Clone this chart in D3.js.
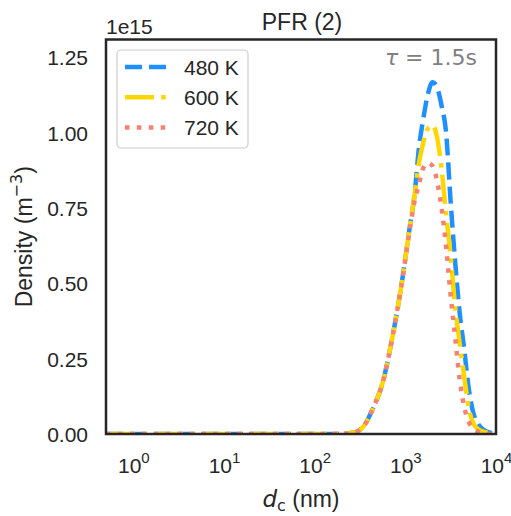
<!DOCTYPE html>
<html>
<head>
<meta charset="utf-8">
<style>
  body { margin: 0; background: #fff; }
  svg { display: block; font-family: "Liberation Sans", Arial, sans-serif; }
  .tick text { fill: #262626; }
</style>
</head>
<body>
<script src="https://cdn.jsdelivr.net/npm/d3@7/dist/d3.min.js"></script>
<svg id="chart" width="511" height="516"></svg>
<script>
// particle diameters (nm), shared by all series
var diameters = [0.5, 1, 10, 100, 158, 224, 282, 355, 447, 562, 708, 891, 1122, 1259, 1413, 1585,
  1778, 1995, 2239, 2512, 2818, 3162, 3548, 3981, 4467, 5012, 5623, 6310, 7079, 7943, 10000];

// density, units of 1e15 m^-3
var dens480 = [0, 0, 0, 0, 0, 0.002, 0.006, 0.03, 0.09, 0.17, 0.31, 0.48, 0.69, 0.79, 0.95, 1.05,
  1.13, 1.168, 1.15, 1.09, 1.0, 0.77, 0.57, 0.40, 0.28, 0.15, 0.07, 0.035, 0.017, 0.008, 0.001];
var dens600 = [0, 0, 0, 0, 0, 0.002, 0.006, 0.03, 0.09, 0.17, 0.31, 0.48, 0.69, 0.79, 0.90, 0.97,
  1.015, 1.025, 0.985, 0.88, 0.73, 0.59, 0.42, 0.30, 0.19, 0.085, 0.035, 0.017, 0.009, 0.005, 0];
var dens720 = [0, 0, 0, 0, 0, 0.002, 0.006, 0.03, 0.09, 0.17, 0.31, 0.48, 0.68, 0.77, 0.83, 0.885,
  0.90, 0.89, 0.84, 0.75, 0.62, 0.46, 0.32, 0.18, 0.09, 0.04, 0.018, 0.008, 0.003, 0.001, 0];

var seriesNames = ["480 K", "600 K", "720 K"];
var xTicks = [1, 10, 100, 1000, 10000];
var yTicks = [0, 0.25, 0.5, 0.75, 1.0, 1.25];

var series = [
  {name: seriesNames[0], values: dens480, color: "#1E90FF", dash: "17,7"},
  {name: seriesNames[1], values: dens600, color: "#FFD700", dash: "29,7.2,4.5,7.2"},
  {name: seriesNames[2], values: dens720, color: "#FA8072", dash: "4.5,7.4"}
];

var pLeft = 106, pRight = 496, pTop = 39.5, pBottom = 434;
var svg = d3.select("#chart");

var x = d3.scaleLog().domain([0.5, 10000]).range([pLeft, pRight]);
var y = d3.scaleLinear().domain([0, 1.31]).range([pBottom, pTop]);

svg.append("clipPath").attr("id", "clip")
  .append("rect").attr("x", pLeft).attr("y", pTop).attr("width", pRight - pLeft).attr("height", pBottom - pTop);

// curves
var line = d3.line()
  .x(function(d, i) { return x(diameters[i]); })
  .y(function(d) { return y(d); })
  .curve(d3.curveMonotoneX);

var lines = svg.append("g").attr("clip-path", "url(#clip)");
series.forEach(function(s) {
  lines.append("path")
    .attr("d", line(s.values))
    .attr("fill", "none")
    .attr("stroke", s.color)
    .attr("stroke-width", 4.5)
    .attr("stroke-dasharray", s.dash);
});

// y axis
var yAxis = svg.append("g")
  .attr("transform", "translate(" + pLeft + ",0)")
  .call(d3.axisLeft(y).tickValues(yTicks).tickSize(0).tickPadding(18)
    .tickFormat(d3.format(".2f")));
yAxis.select(".domain").remove();
yAxis.selectAll("text").style("font-size", "21px").attr("dy", "0.35em");

// x axis, labels as 10^n
var xAxis = svg.append("g")
  .attr("transform", "translate(0," + pBottom + ")")
  .call(d3.axisBottom(x).tickValues(xTicks).tickSize(0).tickPadding(0).tickFormat(""));
xAxis.select(".domain").remove();
xAxis.selectAll(".tick").each(function(d) {
  var t = d3.select(this).append("text")
    .attr("y", 39)
    .attr("text-anchor", "middle")
    .style("font-size", "21px")
    .attr("fill", "#262626");
  t.append("tspan").text("10");
  t.append("tspan").attr("dy", -10).style("font-size", "15px").text(Math.round(Math.log10(d)));
});

// frame
svg.append("rect")
  .attr("x", pLeft).attr("y", pTop)
  .attr("width", pRight - pLeft).attr("height", pBottom - pTop)
  .attr("fill", "none").attr("stroke", "#262626").attr("stroke-width", 2.5);

// offset text, title, labels
svg.append("text").attr("x", 106).attr("y", 34)
  .style("font-size", "21px").attr("fill", "#262626").text("1e15");

svg.append("text").attr("x", 302).attr("y", 30).attr("text-anchor", "middle")
  .style("font-size", "23px").attr("fill", "#262626").text("PFR (2)");

var xl = svg.append("text").attr("x", 301).attr("y", 507).attr("text-anchor", "middle")
  .style("font-size", "23px").attr("fill", "#262626");
xl.append("tspan").style("font-family", "DejaVu Sans").style("font-style", "italic").text("d");
xl.append("tspan").attr("dy", 4).style("font-family", "DejaVu Sans").style("font-size", "16px").text("c");
xl.append("tspan").attr("dy", -4).text(" (nm)");

var yl = svg.append("text")
  .attr("transform", "translate(32," + ((pTop + pBottom) / 2) + ") rotate(-90)")
  .attr("text-anchor", "middle")
  .style("font-size", "23px").attr("fill", "#262626");
yl.append("tspan").text("Density (m");
yl.append("tspan").attr("dy", -10).style("font-family", "DejaVu Sans").style("font-size", "16px").text("\u22123");
yl.append("tspan").attr("dy", 10).text(")");

var tau = svg.append("text").attr("x", 477).attr("y", 65).attr("text-anchor", "end")
  .style("font-family", "DejaVu Sans").style("font-size", "22px").attr("fill", "#808080");
tau.append("tspan").style("font-style", "italic").text("\u03C4");
tau.append("tspan").text(" = 1.5s");

// legend
var lg = svg.append("g");
lg.append("rect")
  .attr("x", 117).attr("y", 50).attr("width", 131).attr("height", 98)
  .attr("rx", 4).attr("fill", "#fff").attr("fill-opacity", 0.8)
  .attr("stroke", "#cccccc").attr("stroke-width", 1.2);
series.forEach(function(s, i) {
  var ly = 67 + i * 30.3;
  lg.append("line")
    .attr("x1", 125).attr("x2", 168).attr("y1", ly).attr("y2", ly)
    .attr("stroke", s.color).attr("stroke-width", 4.5)
    .attr("stroke-dasharray", s.dash);
  lg.append("text")
    .attr("x", 184).attr("y", ly + 7.5)
    .style("font-size", "21px").attr("fill", "#262626")
    .text(s.name);
});
</script>
</body>
</html>
